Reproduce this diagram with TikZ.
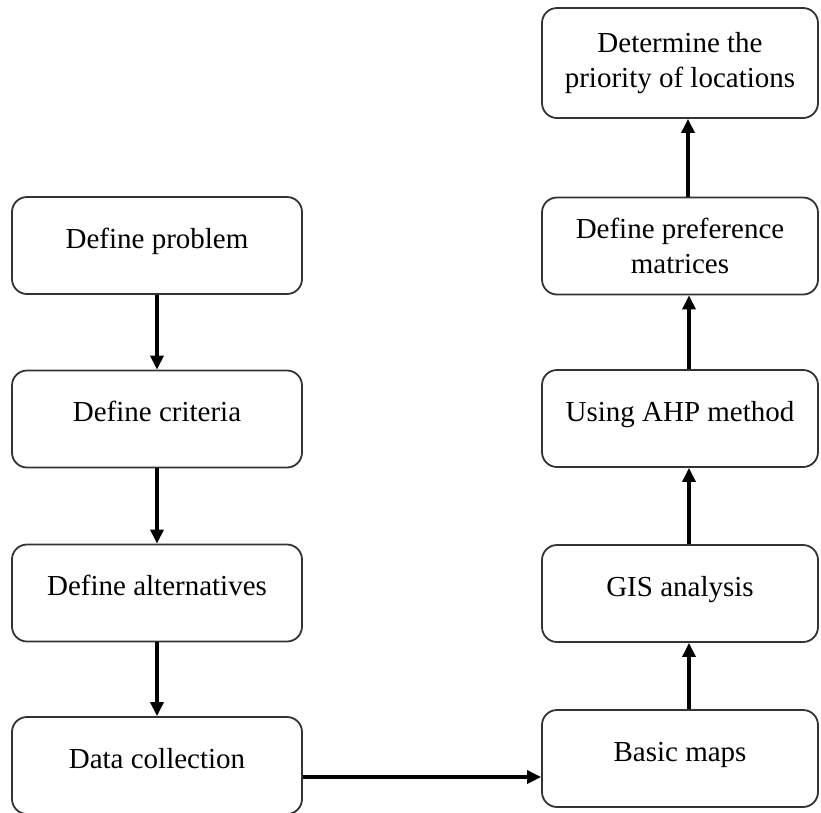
\documentclass[tikz,border=0pt]{standalone}
\usepackage{fontspec}
\setmainfont{Liberation Serif}
\usetikzlibrary{arrows.meta}
\begin{document}
\begin{tikzpicture}[x=1pt,y=-1pt,
  box/.style={draw=black!80, line width=1.8pt, rounded corners=15pt, fill=white,
    align=center, font=\fontsize{29}{35}\selectfont, inner sep=0pt},
  leftbox/.style={box, minimum width=290pt, minimum height=97pt},
  rightbox/.style={box, minimum width=276pt, minimum height=97pt},
  oneline/.style={text height=20pt, text depth=15pt},
  arr/.style={line width=3.2pt, -{Triangle[length=14pt,width=13pt]}}]
\useasboundingbox (0,0) rectangle (821,812);

% left column
\node[leftbox, oneline] (prob) at (157,245.5) {Define problem};
\node[leftbox, oneline] (crit) at (157,419) {Define criteria};
\node[leftbox, oneline] (alt)  at (157,593) {Define alternatives};
\node[leftbox, oneline] (data) at (157,765.5) {Data collection};

% right column
\node[rightbox, minimum height=110pt] (prio) at (680,63) {Determine the\\priority of locations};
\node[rightbox] (pref) at (680,246) {Define preference\\matrices};
\node[rightbox, oneline] (ahp)   at (680,418.5) {Using AHP method};
\node[rightbox, oneline] (gis)   at (680,593.5) {GIS analysis};
\node[rightbox, oneline] (maps)  at (680,758.5) {Basic maps};

% connectors
\draw[arr] (prob.south) -- (crit.north);
\draw[arr] (crit.south) -- (alt.north);
\draw[arr] (alt.south) -- (data.north);
\draw[arr] ([yshift=-11.5pt]data.east) -- ([yshift=-11.5pt]data.east -| maps.west);
\draw[arr] ([xshift=9pt]maps.north) -- ([xshift=9pt]gis.south);
\draw[arr] ([xshift=9pt]gis.north) -- ([xshift=9pt]ahp.south);
\draw[arr] ([xshift=9pt]ahp.north) -- ([xshift=9pt]pref.south);
\draw[arr] ([xshift=8pt]pref.north) -- ([xshift=8pt]prio.south);
\end{tikzpicture}
\end{document}
